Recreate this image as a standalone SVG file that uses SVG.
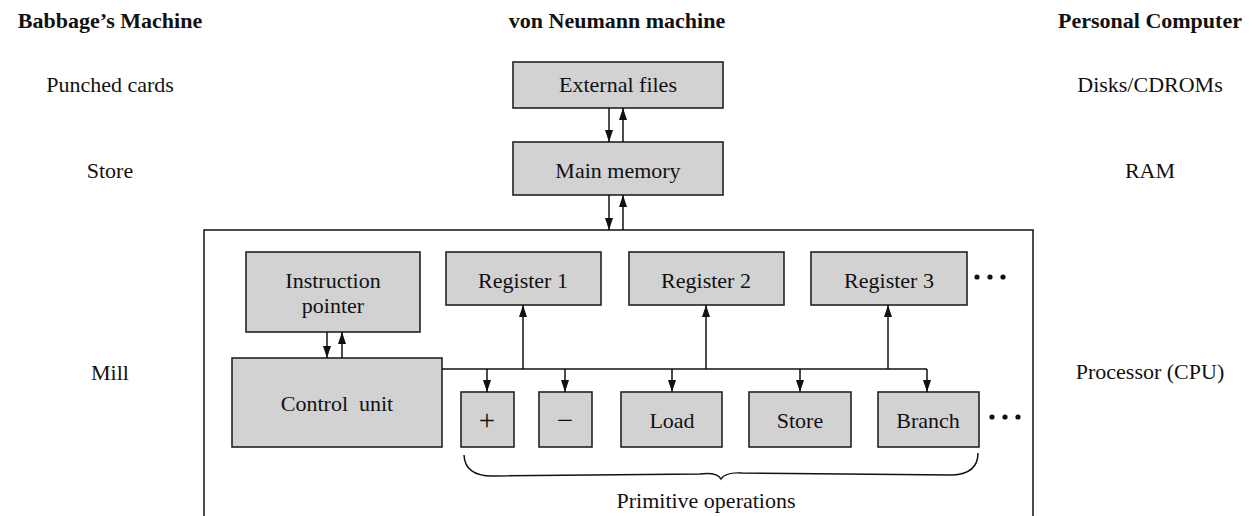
<svg xmlns="http://www.w3.org/2000/svg" width="1259" height="516" viewBox="0 0 1259 516">
<style>
text{font-family:"Liberation Serif","Times New Roman",serif;font-size:22px;fill:#111;text-anchor:middle}
.h{font-weight:bold}
.op{font-size:29px}
.box{fill:#d2d2d2;stroke:#222;stroke-width:1.6}
.ln{fill:none;stroke:#111;stroke-width:1.5}
.dot{fill:#111}
</style>
<defs>
<marker id="ah" viewBox="0 0 12 8" refX="12" refY="4" markerWidth="12" markerHeight="8" markerUnits="userSpaceOnUse" orient="auto">
<path d="M0,0 L12,4 L0,8 z" fill="#111"/>
</marker>
</defs>
<rect width="1259" height="516" fill="#fff"/>
<g id="headings">
<text class="h" x="110" y="28">Babbage’s Machine</text>
<text class="h" x="617" y="28">von Neumann machine</text>
<text class="h" x="1150" y="28">Personal Computer</text>
</g>
<g id="left-labels">
<text x="110" y="92">Punched cards</text>
<text x="110" y="178">Store</text>
<text x="110" y="380">Mill</text>
</g>
<g id="right-labels">
<text x="1150" y="92">Disks/CDROMs</text>
<text x="1150" y="178">RAM</text>
<text x="1150" y="379">Processor (CPU)</text>
</g>
<g id="processor-frame">
<path class="ln" d="M204,516 V230 H1033 V516"/>
</g>
<g id="external-files"><rect class="box" x="513" y="62" width="210" height="46"/><text x="618" y="92">External files</text></g>
<g id="main-memory"><rect class="box" x="513" y="142" width="210" height="53"/><text x="618" y="178">Main memory</text></g>
<g id="instruction-pointer"><rect class="box" x="246" y="252" width="174" height="80"/><text x="333" y="288">Instruction</text><text x="333" y="313">pointer</text></g>
<g id="control-unit"><rect class="box" x="232" y="358" width="210" height="89"/><text x="337" y="411" xml:space="preserve">Control  unit</text></g>
<g id="register-1"><rect class="box" x="446" y="252" width="155" height="53"/><text x="523" y="288">Register 1</text></g>
<g id="register-2"><rect class="box" x="629" y="252" width="155" height="53"/><text x="706" y="288">Register 2</text></g>
<g id="register-3"><rect class="box" x="811" y="252" width="156" height="53"/><text x="889" y="288">Register 3</text></g>
<g id="register-more"><circle class="dot" cx="977" cy="277" r="2.6"/><circle class="dot" cx="990" cy="277" r="2.6"/><circle class="dot" cx="1003" cy="277" r="2.6"/></g>
<g id="op-plus"><rect class="box" x="461" y="392" width="53" height="55"/><text class="op" x="487" y="430">+</text></g>
<g id="op-minus"><rect class="box" x="539" y="392" width="53" height="55"/><text class="op" x="565" y="430">−</text></g>
<g id="op-load"><rect class="box" x="621" y="392" width="101" height="55"/><text x="672" y="428">Load</text></g>
<g id="op-store"><rect class="box" x="749" y="392" width="102" height="55"/><text x="800" y="428">Store</text></g>
<g id="op-branch"><rect class="box" x="878" y="392" width="101" height="55"/><text x="928" y="428">Branch</text></g>
<g id="op-more"><circle class="dot" cx="992" cy="417" r="2.6"/><circle class="dot" cx="1005" cy="417" r="2.6"/><circle class="dot" cx="1018" cy="417" r="2.6"/></g>
<g id="primitive-operations">
<path class="ln" d="M464,455 Q465,476 492,476 L700,474 Q717,472 721,479 Q725,472 742,473 L952,475 Q978,474 978,453"/>
<text x="706" y="508">Primitive operations</text>
</g>
<g id="connectors">
<line class="ln" x1="609" y1="108" x2="609" y2="142" marker-end="url(#ah)"/>
<line class="ln" x1="623" y1="142" x2="623" y2="108" marker-end="url(#ah)"/>
<line class="ln" x1="609" y1="195" x2="609" y2="230" marker-end="url(#ah)"/>
<line class="ln" x1="623" y1="230" x2="623" y2="195" marker-end="url(#ah)"/>
<line class="ln" x1="327" y1="332" x2="327" y2="358" marker-end="url(#ah)"/>
<line class="ln" x1="342" y1="358" x2="342" y2="332" marker-end="url(#ah)"/>
<line class="ln" x1="442" y1="369" x2="927" y2="369"/>
<line class="ln" x1="523" y1="369" x2="523" y2="305" marker-end="url(#ah)"/>
<line class="ln" x1="706" y1="369" x2="706" y2="305" marker-end="url(#ah)"/>
<line class="ln" x1="888" y1="369" x2="888" y2="305" marker-end="url(#ah)"/>
<line class="ln" x1="487" y1="369" x2="487" y2="392" marker-end="url(#ah)"/>
<line class="ln" x1="565" y1="369" x2="565" y2="392" marker-end="url(#ah)"/>
<line class="ln" x1="672" y1="369" x2="672" y2="392" marker-end="url(#ah)"/>
<line class="ln" x1="800" y1="369" x2="800" y2="392" marker-end="url(#ah)"/>
<line class="ln" x1="927" y1="369" x2="927" y2="392" marker-end="url(#ah)"/>
</g>
</svg>
